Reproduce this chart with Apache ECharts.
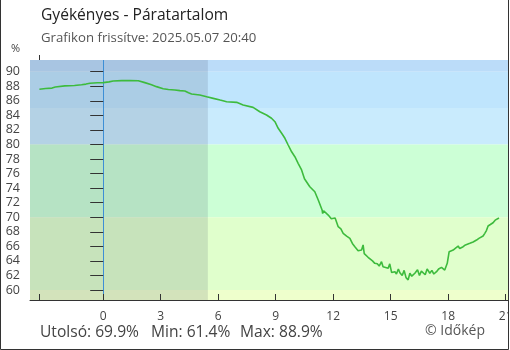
<!DOCTYPE html>
<html><head><meta charset="utf-8">
<script src="https://cdn.jsdelivr.net/npm/echarts@6/dist/echarts.min.js"></script>
<style>html,body{margin:0;padding:0;background:#fff}#c{width:510px;height:350px}</style>
</head><body><div id="c"></div>
<script>
// hours relative to midnight 2025.05.07 (negative = previous evening)
const hours = [-3.33,-3.0,-2.67,-2.5,-2.0,-1.5,-1.13,-0.9,-0.69,-0.3,0,0.3,0.52,0.96,1.4,1.83,2.17,2.52,2.78,3.13,3.4,3.74,4.0,4.26,4.45,4.61,5.04,5.4,5.74,6.1,6.44,6.96,7.3,7.82,8.17,8.52,8.78,8.96,9.13,9.31,9.48,9.65,9.83,10.0,10.17,10.35,10.43,10.5,10.57,10.78,11.04,11.22,11.42,11.45,11.5,11.74,11.9,12.0,12.1,12.26,12.4,12.52,12.7,12.87,13.0,13.13,13.3,13.39,13.48,13.56,13.62,13.82,13.91,14.05,14.17,14.3,14.4,14.52,14.6,14.7,14.87,14.95,15.05,15.22,15.3,15.4,15.48,15.6,15.7,15.8,15.91,16.0,16.1,16.26,16.4,16.5,16.6,16.69,16.8,16.9,17.04,17.15,17.25,17.39,17.5,17.65,17.82,17.95,18.05,18.15,18.26,18.4,18.52,18.6,18.78,18.9,19.13,19.3,19.48,19.6,19.7,19.82,19.91,20.0,20.08,20.2,20.34,20.45,20.52,20.65];
const humidity = [87.6,87.7,87.75,87.9,88.05,88.1,88.2,88.3,88.42,88.48,88.5,88.6,88.72,88.78,88.8,88.75,88.5,88.2,87.95,87.67,87.55,87.49,87.4,87.35,87.1,86.94,86.8,86.55,86.34,86.1,85.88,85.79,85.42,85.1,84.5,84.05,83.6,83.13,82.22,81.54,80.85,79.93,79.0,78.32,77.41,76.5,76.3,75.3,75.5,74.2,73.51,72.37,71.0,70.5,70.9,70.3,69.8,69.62,69.9,68.7,68.4,67.79,67.4,67.1,66.4,65.95,65.4,65.3,65.5,66.2,65.0,64.5,64.36,64.0,63.67,63.6,63.3,63.9,63.2,63.0,62.98,63.6,62.4,62.52,62.2,62.9,62.38,62.0,62.7,61.7,61.4,62.3,61.9,62.3,62.8,62.0,62.6,62.52,62.1,62.9,62.3,62.7,62.2,62.52,62.9,63.12,62.75,63.67,65.27,65.0,65.5,65.8,66.05,65.7,65.95,66.2,66.42,66.6,66.87,67.1,67.0,67.42,67.79,68.2,68.8,69.0,69.25,69.6,69.85,69.9];
const xTickValues = [-3.33,0,3,6,9,12,15,18,21];
const xLabelValues = [0,3,6,9,12,15,18,21];
const yLabelValues = [60,62,64,66,68,70,72,74,76,78,80,82,84,86,88,90];
const bands = [[91.61,90],[90,85],[85,80],[80,70],[70,60],[60,58.63]];
const bandColors = ['#bbdcf9','#bfe5fd','#c9ebfd','#ccffd6','#e0ffcc','#eeffcc'];
const sunrise = 5.46;
const statTexts = ['Utolsó: 69.9%','Min: 61.4%','Max: 88.9%'];

const X_MIN = -3.82, X_MAX = 21.12, Y_MIN = 58.63, Y_MAX = 91.61;
const chart = echarts.init(document.getElementById('c'), null, {renderer:'canvas'});
const lineData = hours.map((h,i)=>[h, humidity[i]]);
const F = '"Open Sans", "Noto Sans", sans-serif';
const statX = [40, 151, 240];
chart.setOption({
  animation:false,
  grid:{left:30, right:2, top:60, bottom:50, containLabel:false, outerBoundsMode:'none'},
  xAxis:{type:'value', min:X_MIN, max:X_MAX, z:10,
    axisLine:{show:true, lineStyle:{color:'#333', width:1}},
    axisTick:{show:true, inside:true, length:6, customValues:xTickValues, lineStyle:{color:'#333'}},
    axisLabel:{customValues:xLabelValues, margin:11, color:'#444', fontSize:12, fontFamily:F, hideOverlap:false},
    splitLine:{show:false}},
  yAxis:{type:'value', min:Y_MIN, max:Y_MAX, offset:-17, z:10,
    axisLine:{show:false},
    axisTick:{show:true, length:13, customValues:yLabelValues, lineStyle:{color:'#333', width:1}},
    axisLabel:{customValues:yLabelValues, margin:27, color:'#444', fontSize:12.5, fontFamily:F},
    splitLine:{show:false}},
  series:[
    {type:'line', data:[], z:1, silent:true,
      markArea:{silent:true, data: bands.map((b,i)=>[{yAxis:b[0], xAxis:X_MIN, itemStyle:{color:bandColors[i]}},{yAxis:b[1], xAxis:X_MAX}])}},
    {type:'line', data:[], z:2, silent:true,
      markArea:{silent:true, itemStyle:{color:'rgba(60,70,95,0.15)'}, data:[[{xAxis:X_MIN, yAxis:Y_MIN},{xAxis:sunrise, yAxis:Y_MAX}]]},
      markLine:{silent:true, symbol:'none', label:{show:false}, lineStyle:{color:'#3d8fd6', width:1, type:'solid'}, data:[{xAxis:0}]}},
    {type:'line', data:lineData, z:20, showSymbol:false, symbol:'none',
      lineStyle:{color:'#3dbb3d', width:1.6}}
  ],
  graphic:[
    {id:'t1', type:'text', left:41, top:8, style:{text:'Gyékényes - Páratartalom', fill:'#222', fontSize:15.6, fontFamily:F, fontWeight:'normal'}},
    {id:'t2', type:'text', left:41, top:32, style:{text:'Grafikon frissítve: 2025.05.07 20:40', fill:'#555', fontSize:13.2, fontFamily:F}},
    {id:'t3', type:'text', left:11, top:43, style:{text:'%', fill:'#444', fontSize:11, fontFamily:F}},
    {id:'s0', type:'text', left:statX[0], top:325, style:{text:statTexts[0], fill:'#444', fontSize:15.6, fontFamily:F}},
    {id:'s1', type:'text', left:statX[1], top:325, style:{text:statTexts[1], fill:'#444', fontSize:15.6, fontFamily:F}},
    {id:'s2', type:'text', left:statX[2], top:325, style:{text:statTexts[2], fill:'#444', fontSize:15.6, fontFamily:F}},
    {id:'t5', type:'text', left:425, top:324, style:{text:'© Időkép', fill:'#555', fontSize:14, fontFamily:F}},
    {id:'clip', type:'rect', z:100, shape:{x:508.5, y:0, width:10, height:350}, style:{fill:'#fff'}},
    {id:'frame', type:'rect', z:101, shape:{x:0.5, y:-0.5, width:508, height:350}, style:{fill:'none', stroke:'#333', lineWidth:1}}
  ]
});
const p0 = chart.convertToPixel({gridIndex:0}, [hours[0], Y_MAX]);
chart.setOption({graphic:[{id:'stub', type:'line', z:30, shape:{x1:Math.round(p0[0])+0.5, y1:p0[1]-5, x2:Math.round(p0[0])+0.5, y2:p0[1]}, style:{stroke:'#333', lineWidth:1}}]});
</script></body></html>
